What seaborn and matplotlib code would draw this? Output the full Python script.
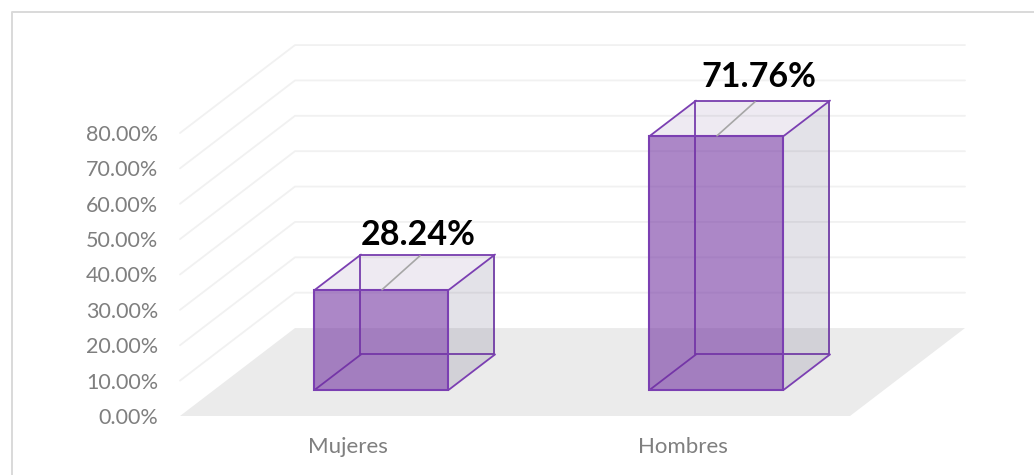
import matplotlib
matplotlib.use("Agg")
import matplotlib.pyplot as plt
import matplotlib.ticker as mtick
from matplotlib.lines import Line2D
import seaborn as sns

categories = ["Mujeres", "Hombres"]
values = [28.24, 71.76]
value_labels = ["28.24%", "71.76%"]
y_ticks = [0, 10, 20, 30, 40, 50, 60, 70, 80]

PURPLE = "#7030A0"
EDGE = "#7B3FB2"
GRID = "#F1F1F1"
FLOOR = "#EBEBEB"
TEXT = "#7F7F7F"

# depth of the fake 3d box, in data units (px / px per unit)
DEPTH_X = 115 / 335
DEPTH_Y = 88 / 3.54
BAR_W = 0.4
D_FRONT = 0.30
D_BACK = 0.70
# leader line of the value labels, data units
LEAD_X = 38 / 335
LEAD_Y = 34 / 3.54


def proj(x, y, d):
    return x + d * DEPTH_X, y + d * DEPTH_Y


def poly(ax, corners, **kw):
    pts = [proj(*c) for c in corners]
    ax.fill([p[0] for p in pts], [p[1] for p in pts], clip_on=False, **kw)


def edge(ax, a, b, **kw):
    p, q = proj(*a), proj(*b)
    ax.plot([p[0], q[0]], [p[1], q[1]], color=EDGE, lw=1.3, clip_on=False,
            solid_capstyle="round", **kw)


def shift_bars(ax, d):
    # seaborn puts the bars on the front plane, push them back on the floor
    dx, dy = proj(0, 0, d)
    for b in ax.containers[-1]:
        b.set_x(b.get_x() + dx - 0.002)
        b.set_y(b.get_y() + dy)
        b.set_clip_on(False)


sns.set_theme(style="white")
plt.rcParams["font.family"] = ["Lato", "DejaVu Sans"]

fig = plt.figure(figsize=(10.34, 4.75), dpi=100)
ax = fig.add_axes([180 / 1034, (475 - 416) / 475, 670 / 1034, 283 / 475])

# back wall, side wall, floor
for t in y_ticks[1:]:
    xa, ya = proj(-0.5, t, 0)
    xb, yb = proj(-0.5, t, 1)
    xc, yc = proj(1.5, t, 1)
    ax.plot([xa, xb, xc], [ya, yb, yc], color=GRID, lw=1.3, clip_on=False, zorder=0.5)
poly(ax, [(-0.5, 0, 0), (1.5, 0, 0), (1.5, 0, 1), (-0.5, 0, 1)], color=FLOOR, lw=0, zorder=1)

# back face
sns.barplot(x=categories, y=values, width=BAR_W, ax=ax, fill=False, edgecolor=EDGE,
            linewidth=1.3, zorder=2, errorbar=None)
shift_bars(ax, D_BACK)

for i, v in enumerate(values):
    l, r = i - BAR_W / 2, i + BAR_W / 2
    # top and right side faces
    poly(ax, [(l, v, D_FRONT), (r, v, D_FRONT), (r, v, D_BACK), (l, v, D_BACK)],
         color="#5A3A80", alpha=0.10, lw=0, zorder=3)
    poly(ax, [(r, 0, D_FRONT), (r, v, D_FRONT), (r, v, D_BACK), (r, 0, D_BACK)],
         color="#3F3560", alpha=0.14, lw=0, zorder=3)
    # depth edges
    for x0, y0 in [(l, 0), (r, 0), (l, v), (r, v)]:
        edge(ax, (x0, y0, D_FRONT), (x0, y0, D_BACK), zorder=4)

# front face
sns.barplot(x=categories, y=values, width=BAR_W, ax=ax, color=PURPLE, alpha=0.58,
            saturation=1, linewidth=0, zorder=5, errorbar=None)
shift_bars(ax, D_FRONT)
sns.barplot(x=categories, y=values, width=BAR_W, ax=ax, fill=False, edgecolor=EDGE,
            linewidth=1.5, zorder=6, errorbar=None)
shift_bars(ax, D_FRONT)

# leader lines and labels, the label offsets in px differ a bit per bar
label_offsets = [(-2, 1), (3.5, 5)]
for i, v in enumerate(values):
    xa, ya = proj(i, v, D_FRONT)
    xb, yb = xa + LEAD_X, ya + LEAD_Y
    ax.plot([xa, xb], [ya, yb], color="#A6A6A6", lw=1.2, clip_on=False, zorder=7)
    ox, oy = label_offsets[i]
    ax.text(xb + ox / 335, yb + 1.0 + oy / 3.54, value_labels[i], ha="center", va="bottom",
            fontsize=24.5, fontweight="bold", color="black", zorder=8, clip_on=False)

ax.set_xlim(-0.5, 1.5)
ax.set_ylim(0, 80)
ax.set_yticks(y_ticks)
ax.yaxis.set_major_formatter(mtick.FormatStrFormatter("%.2f%%"))
ax.tick_params(axis="y", labelsize=15.5, labelcolor=TEXT, length=0, pad=15.7)
ax.tick_params(axis="x", labelsize=16, labelcolor=TEXT, length=0, pad=15)
ax.set_xlabel("")
ax.set_ylabel("")
sns.despine(ax=ax, left=True, bottom=True)

# chart border, only the top and left sides are inside the picture
bx, by = 12 / 1034, 1 - 12 / 475
fig.add_artist(Line2D([bx, bx, 1], [0, by, by], color="#D9D9D9", lw=1.4,
                      transform=fig.transFigure))

fig.savefig("out.png", dpi=100)
